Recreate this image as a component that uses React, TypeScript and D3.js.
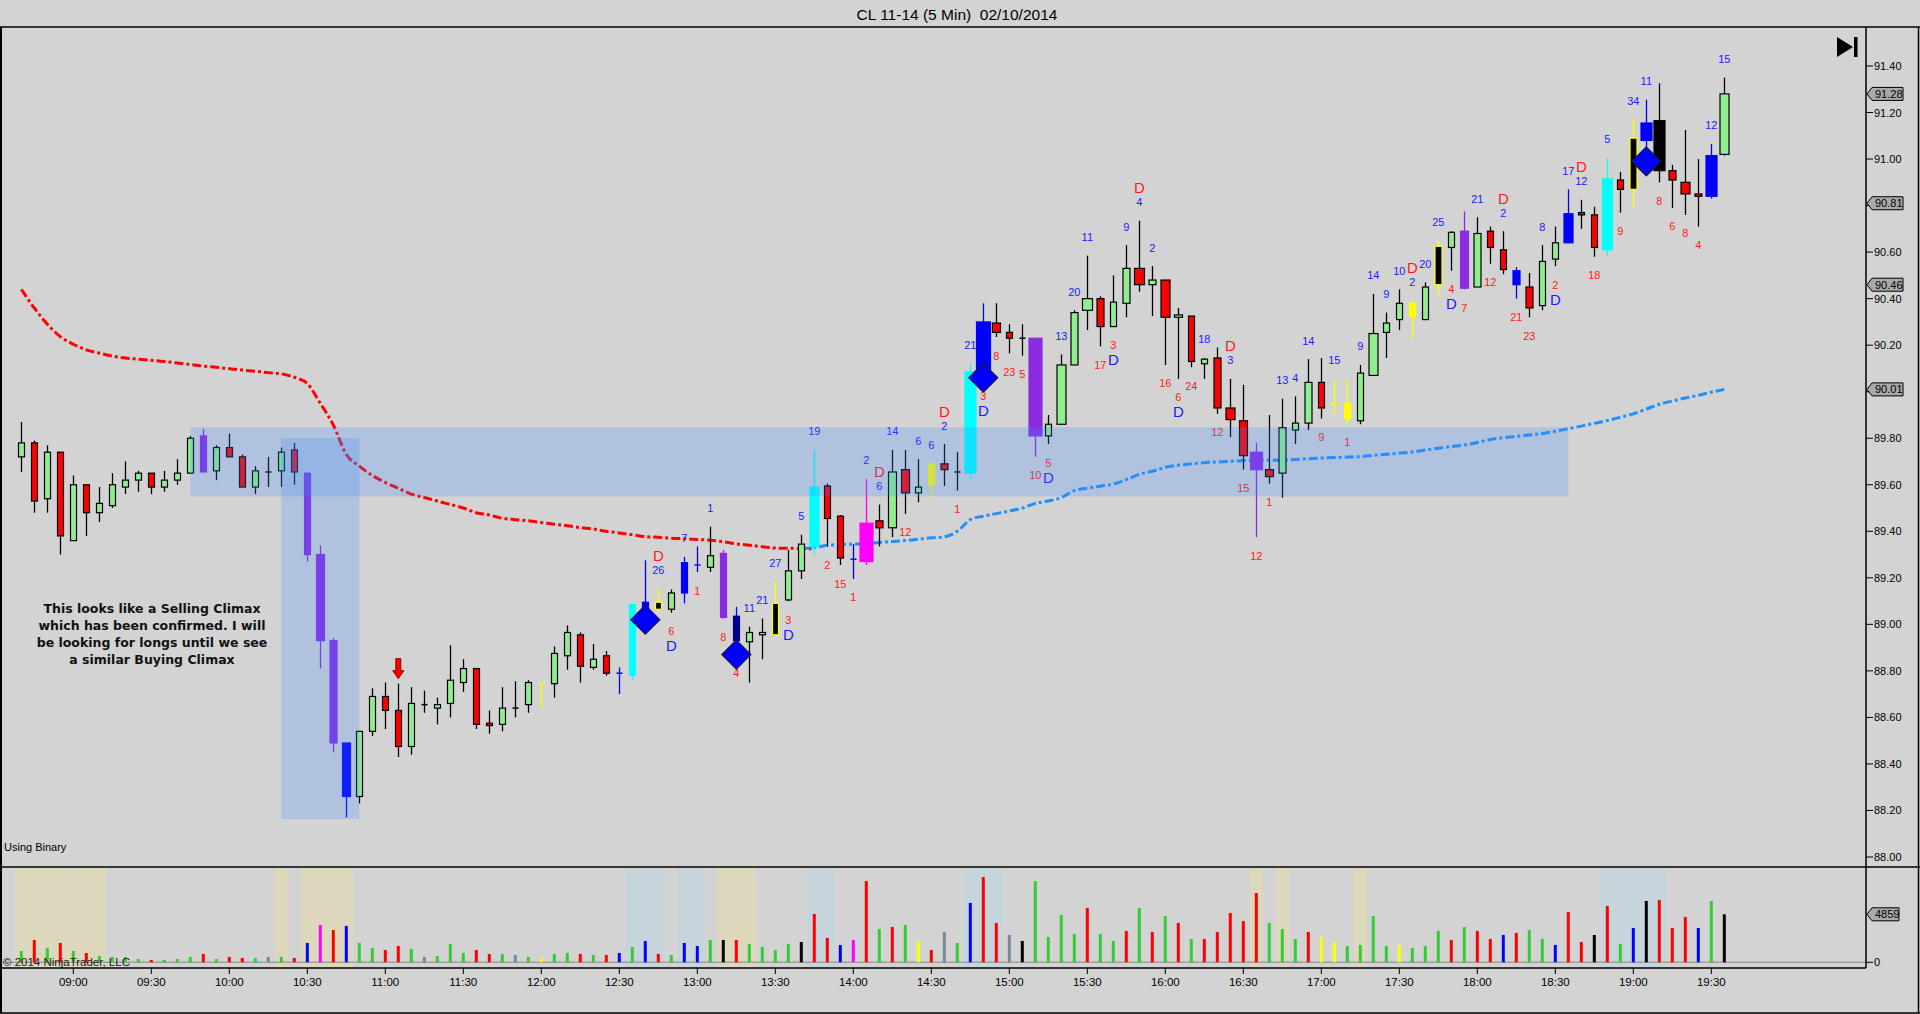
import * as d3 from "d3";

// ---- data (CL 11-14, 5 min bars, 02/10/2014) ----
const firstBarTime = "08:40";

// kind, open, high, low, close
const bars: [string, number, number, number, number][] = [
  ["g", 89.72, 89.87, 89.655, 89.78], ["r", 89.78, 89.79, 89.48, 89.53], ["g", 89.54, 89.77, 89.48, 89.74],
  ["r", 89.74, 89.74, 89.3, 89.38], ["g", 89.36, 89.64, 89.36, 89.6], ["r", 89.6, 89.6, 89.38, 89.48],
  ["g", 89.48, 89.59, 89.44, 89.52], ["g", 89.51, 89.65, 89.5, 89.6], ["g", 89.59, 89.7, 89.56, 89.62],
  ["g", 89.62, 89.66, 89.57, 89.65], ["r", 89.65, 89.65, 89.56, 89.59], ["g", 89.59, 89.66, 89.57, 89.62],
  ["g", 89.62, 89.71, 89.6, 89.65], ["g", 89.65, 89.81, 89.65, 89.8], ["p", 89.81, 89.84, 89.655, 89.655],
  ["g", 89.66, 89.77, 89.62, 89.76], ["r", 89.76, 89.82, 89.72, 89.72], ["r", 89.72, 89.73, 89.59, 89.59],
  ["g", 89.59, 89.68, 89.56, 89.66], ["x", 89.655, 89.72, 89.59, 89.655], ["g", 89.66, 89.76, 89.59, 89.74],
  ["r", 89.75, 89.78, 89.6, 89.655], ["p", 89.65, 89.65, 89.27, 89.3], ["p", 89.3, 89.34, 88.81, 88.93],
  ["p", 88.93, 88.94, 88.45, 88.49], ["b", 88.49, 88.49, 88.17, 88.26], ["g", 88.26, 88.54, 88.23, 88.54],
  ["g", 88.54, 88.725, 88.52, 88.69], ["r", 88.69, 88.75, 88.55, 88.63], ["r", 88.63, 88.745, 88.43, 88.475],
  ["g", 88.475, 88.73, 88.44, 88.66], ["x", 88.655, 88.715, 88.62, 88.655], ["g", 88.64, 88.685, 88.57, 88.655],
  ["g", 88.66, 88.91, 88.6, 88.76], ["g", 88.75, 88.85, 88.71, 88.81], ["r", 88.81, 88.81, 88.55, 88.57],
  ["r", 88.575, 88.63, 88.53, 88.565], ["g", 88.57, 88.73, 88.54, 88.64], ["x", 88.64, 88.755, 88.6, 88.64],
  ["g", 88.655, 88.76, 88.62, 88.75], ["y", 88.745, 88.75, 88.64, 88.745], ["g", 88.745, 88.905, 88.685, 88.875],
  ["g", 88.865, 88.995, 88.805, 88.965], ["r", 88.955, 88.965, 88.75, 88.82], ["g", 88.815, 88.915, 88.805, 88.85],
  ["r", 88.865, 88.885, 88.78, 88.79], ["b", 88.79, 88.815, 88.7, 88.79], ["c", 88.78, 89.09, 88.76, 89.085],
  ["b", 89.06, 89.275, 89.02, 89.095], ["ky", 89.065, 89.155, 89.055, 89.095], ["g", 89.065, 89.15, 89.05, 89.135],
  ["b", 89.135, 89.29, 89.09, 89.265], ["b", 89.255, 89.335, 89.225, 89.255], ["g", 89.245, 89.42, 89.225, 89.295],
  ["p", 89.305, 89.32, 89.025, 89.03], ["n", 89.035, 89.075, 88.87, 88.93], ["g", 88.925, 88.99, 88.75, 88.965],
  ["g", 88.955, 89.025, 88.85, 88.965], ["ky", 88.955, 89.185, 88.95, 89.09], ["g", 89.105, 89.32, 89.1, 89.23],
  ["g", 89.23, 89.385, 89.195, 89.345], ["c", 89.335, 89.75, 89.3, 89.59], ["r", 89.595, 89.605, 89.335, 89.455],
  ["r", 89.465, 89.47, 89.255, 89.285], ["b", 89.28, 89.345, 89.195, 89.28], ["m", 89.27, 89.625, 89.255, 89.435],
  ["r", 89.445, 89.515, 89.335, 89.415], ["g", 89.415, 89.75, 89.375, 89.655], ["r", 89.665, 89.75, 89.475, 89.565],
  ["g", 89.565, 89.71, 89.525, 89.59], ["y", 89.6, 89.69, 89.545, 89.69], ["r", 89.69, 89.775, 89.595, 89.665],
  ["x", 89.655, 89.74, 89.575, 89.655], ["c", 89.65, 90.12, 89.625, 90.085], ["b", 90.09, 90.38, 90.06, 90.3],
  ["r", 90.295, 90.38, 90.235, 90.255], ["r", 90.255, 90.29, 90.165, 90.23], ["x", 90.23, 90.29, 90.155, 90.23],
  ["p", 90.23, 90.23, 89.72, 89.81], ["g", 89.81, 89.9, 89.775, 89.86], ["g", 89.86, 90.16, 89.86, 90.115],
  ["g", 90.115, 90.35, 90.115, 90.34], ["g", 90.35, 90.585, 90.265, 90.4], ["r", 90.4, 90.41, 90.195, 90.28],
  ["g", 90.28, 90.5, 90.28, 90.385], ["g", 90.38, 90.63, 90.32, 90.53], ["r", 90.53, 90.735, 90.43, 90.46],
  ["g", 90.46, 90.54, 90.325, 90.48], ["r", 90.48, 90.48, 90.115, 90.32], ["g", 90.32, 90.36, 90.055, 90.33],
  ["r", 90.325, 90.325, 90.105, 90.13], ["g", 90.12, 90.145, 90.055, 90.14], ["r", 90.145, 90.19, 89.905, 89.93],
  ["r", 89.93, 90.055, 89.805, 89.88], ["r", 89.875, 90.03, 89.665, 89.725], ["p", 89.74, 89.78, 89.375, 89.665],
  ["r", 89.665, 89.9, 89.605, 89.635], ["g", 89.65, 89.97, 89.545, 89.845], ["g", 89.835, 89.98, 89.775, 89.865],
  ["g", 89.865, 90.14, 89.835, 90.04], ["r", 90.04, 90.145, 89.885, 89.93], ["y", 89.94, 90.055, 89.905, 89.945],
  ["y", 89.885, 90.055, 89.865, 89.95], ["g", 89.875, 90.115, 89.86, 90.08], ["g", 90.07, 90.42, 90.07, 90.25],
  ["g", 90.255, 90.34, 90.145, 90.295], ["g", 90.31, 90.44, 90.265, 90.38], ["y", 90.32, 90.39, 90.225, 90.38],
  ["g", 90.31, 90.47, 90.31, 90.45], ["ky", 90.46, 90.65, 90.415, 90.625], ["g", 90.62, 90.69, 90.52, 90.685],
  ["p", 90.69, 90.775, 90.44, 90.445], ["g", 90.45, 90.75, 90.45, 90.68], ["r", 90.69, 90.71, 90.55, 90.62],
  ["r", 90.61, 90.69, 90.505, 90.525], ["b", 90.52, 90.535, 90.4, 90.46], ["r", 90.45, 90.51, 90.32, 90.36],
  ["g", 90.37, 90.63, 90.35, 90.56], ["g", 90.57, 90.71, 90.54, 90.64], ["b", 90.64, 90.87, 90.64, 90.765],
  ["r", 90.77, 90.825, 90.7, 90.76], ["r", 90.76, 90.795, 90.58, 90.62], ["c", 90.61, 91.005, 90.585, 90.915],
  ["r", 90.91, 90.945, 90.77, 90.87], ["ky", 90.87, 91.17, 90.79, 91.09], ["b", 91.08, 91.255, 90.99, 91.155],
  ["k", 91.165, 91.325, 90.9, 90.95], ["r", 90.95, 90.975, 90.79, 90.91], ["r", 90.9, 91.125, 90.76, 90.85],
  ["r", 90.85, 91.0, 90.71, 90.84], ["b", 90.84, 91.065, 90.83, 91.015], ["g", 91.02, 91.35, 91.015, 91.28],
];

const volumes = [
  1147, 2261, 1451, 1957, 1147, 945, 641, 540, 540, 337, 236, 236, 337, 540, 843, 337, 540, 439, 439, 540,
  540, 439, 1957, 3779, 3273, 3678, 1957, 1451, 1248, 1653, 1350, 540, 641, 1856, 945, 1248, 843, 843, 742, 540,
  439, 843, 945, 843, 742, 742, 945, 1552, 2159, 843, 742, 1957, 1653, 2261, 2261, 2261, 1856, 1552, 1248, 1856,
  2058, 4892, 2463, 1754, 2261, 8233, 3374, 3576, 3779, 2159, 1248, 3070, 1957, 6006, 8637, 3981, 2767, 2159, 8233, 2564,
  4791, 2868, 5500, 2868, 2159, 3172, 5500, 3070, 4690, 3981, 2362, 2362, 3070, 4994, 4184, 7018, 3981, 3374, 2362, 3070,
  2564, 2058, 1653, 1754, 4690, 1653, 1754, 1451, 1653, 3172, 2261, 3576, 3172, 2362, 2767, 2969, 3273, 2362, 1754, 5095,
  2058, 2767, 5702, 1856, 3475, 6208, 6309, 3475, 4589, 3475, 6208, 4859,
];

const volumeKinds = (
  "g r g r g r g g g g r g g g r g r r g s g r b m r b g g r r g s g g g r r g s " +
  "g y g g r g r b g b r g b b g k r g g g g k r r b m r g r g y r s g b r r s k " +
  "g g g g r g g r g r g r g r r r r r g g g r y y g g g g y g g g r g " +
  "r r b r g g b r r k r g b k r r r b g"
).split(" ");

const khakiBars = [0, 1, 2, 3, 4, 5, 6, 20, 22, 23, 24, 25, 54, 55, 56, 95, 97, 103];
const slateBars = [47, 48, 49, 51, 52, 61, 62, 73, 74, 75, 122, 123, 124, 125, 126];

// trailing average lines (red while falling, blue after the turn)
const redLineStart = 0;
const redLine = [
  90.44, 90.36, 90.29, 90.237, 90.204, 90.18, 90.166, 90.153, 90.145, 90.14, 90.135, 90.13, 90.123, 90.117,
  90.11, 90.105, 90.099, 90.093, 90.088, 90.082, 90.077, 90.062, 90.035, 89.95, 89.857, 89.73, 89.68, 89.64,
  89.61, 89.585, 89.56, 89.545, 89.53, 89.515, 89.5, 89.48, 89.47, 89.456, 89.45, 89.445, 89.438, 89.43,
  89.424, 89.416, 89.41, 89.4, 89.393, 89.385, 89.377, 89.374, 89.37, 89.368, 89.365, 89.362, 89.355, 89.346,
  89.34, 89.334, 89.328, 89.327, 89.326, 89.325,
];
const blueLineStart = 60;
const blueLine = [
  89.325, 89.33, 89.34, 89.343, 89.345, 89.347, 89.352, 89.356, 89.36, 89.366, 89.372, 89.376, 89.4, 89.45,
  89.465, 89.476, 89.487, 89.5, 89.52, 89.53, 89.545, 89.575, 89.585, 89.594, 89.603, 89.622, 89.645, 89.658,
  89.675, 89.684, 89.69, 89.695, 89.698, 89.701, 89.704, 89.705, 89.705, 89.706, 89.709, 89.712, 89.715, 89.717,
  89.719, 89.721, 89.726, 89.731, 89.736, 89.741, 89.749, 89.757, 89.764, 89.771, 89.782, 89.795, 89.802, 89.808,
  89.814, 89.82, 89.83, 89.841, 89.852, 89.864, 89.876, 89.89, 89.905, 89.925, 89.946, 89.96, 89.973, 89.985,
  89.998, 90.01,
];

// bar index, text, colour, side of the bar, stacking level
const barLabels: [number, string, string, string, number][] = [
  [49, "26", "b", "hi", 0], [49, "D", "r", "hi", 1], [50, "6", "r", "lo", 0], [50, "D", "b", "lo", 1],
  [51, "7", "b", "hi", 0], [52, "1", "r", "lo", 0], [53, "1", "b", "hi", 0], [54, "8", "r", "lo", 0],
  [55, "4", "r", "lo", 0], [56, "11", "b", "hi", 0], [57, "21", "b", "hi", 0], [58, "27", "b", "hi", 0],
  [59, "3", "r", "lo", 0], [59, "D", "b", "lo", 1], [60, "5", "b", "hi", 0], [61, "19", "b", "hi", 0],
  [62, "2", "r", "lo", 0], [63, "15", "r", "lo", 0], [64, "1", "r", "lo", 0], [65, "2", "b", "hi", 0],
  [66, "6", "b", "hi", 0], [66, "D", "r", "hi", 1], [67, "14", "b", "hi", 0], [68, "12", "r", "lo", 0],
  [69, "6", "b", "hi", 0], [70, "6", "b", "hi", 0], [71, "2", "b", "hi", 0], [71, "D", "r", "hi", 1],
  [72, "1", "r", "lo", 0], [73, "21", "b", "hi", 0], [74, "3", "r", "lo", 0], [74, "D", "b", "lo", 1],
  [75, "8", "r", "lo", 0], [76, "23", "r", "lo", 0], [77, "5", "r", "lo", 0], [78, "10", "r", "lo", 0],
  [79, "5", "r", "lo", 0], [79, "D", "b", "lo", 1], [80, "13", "b", "hi", 0], [81, "20", "b", "hi", 0],
  [82, "11", "b", "hi", 0], [83, "17", "r", "lo", 0], [84, "3", "r", "lo", 0], [84, "D", "b", "lo", 1],
  [85, "9", "b", "hi", 0], [86, "4", "b", "hi", 0], [86, "D", "r", "hi", 1], [87, "2", "b", "hi", 0],
  [88, "16", "r", "lo", 0], [89, "6", "r", "lo", 0], [89, "D", "b", "lo", 1], [90, "24", "r", "lo", 0],
  [91, "18", "b", "hi", 0], [92, "12", "r", "lo", 0], [93, "3", "b", "hi", 0], [93, "D", "r", "hi", 1],
  [94, "15", "r", "lo", 0], [95, "12", "r", "lo", 0], [96, "1", "r", "lo", 0], [97, "13", "b", "hi", 0],
  [98, "4", "b", "hi", 0], [99, "14", "b", "hi", 0], [100, "9", "r", "lo", 0], [101, "15", "b", "hi", 0],
  [102, "1", "r", "lo", 0], [103, "9", "b", "hi", 0], [104, "14", "b", "hi", 0], [105, "9", "b", "hi", 0],
  [106, "10", "b", "hi", 0], [107, "2", "b", "hi", 0], [107, "D", "r", "hi", 1], [108, "20", "b", "hi", 0],
  [109, "25", "b", "hi", 0], [110, "4", "r", "lo", 0], [110, "D", "b", "lo", 1], [111, "7", "r", "lo", 0],
  [112, "21", "b", "hi", 0], [113, "12", "r", "lo", 0], [114, "2", "b", "hi", 0], [114, "D", "r", "hi", 1],
  [115, "21", "r", "lo", 0], [116, "23", "r", "lo", 0], [117, "8", "b", "hi", 0], [118, "2", "r", "lo", 0],
  [118, "D", "b", "lo", 1], [119, "17", "b", "hi", 0], [120, "12", "b", "hi", 0], [120, "D", "r", "hi", 1],
  [121, "18", "r", "lo", 0], [122, "5", "b", "hi", 0], [123, "9", "r", "lo", 0], [124, "34", "b", "hi", 0],
  [125, "11", "b", "hi", 0], [126, "8", "r", "lo", 0], [127, "6", "r", "lo", 0], [128, "8", "r", "lo", 0],
  [129, "4", "r", "lo", 0], [130, "12", "b", "hi", 0], [131, "15", "b", "hi", 0],
];

const diamondBars = [48, 55, 74, 125];
const arrowBars = [29];

// drawn rectangles: first bar, last bar, top price, bottom price
const zones: [number, number, number, number][] = [
  [13, 119, 89.847, 89.55],
  [20, 26, 89.8, 88.163],
];

const priceTicks = [88.0, 88.2, 88.4, 88.6, 88.8, 89.0, 89.2, 89.4, 89.6, 89.8, 90.0, 90.2, 90.4, 90.6, 90.8, 91.0, 91.2, 91.4];
const priceMarkers = [91.28, 90.81, 90.46, 90.01];
const timeTicks = [
  "09:00", "09:30", "10:00", "10:30", "11:00", "11:30", "12:00", "12:30", "13:00", "13:30", "14:00",
  "14:30", "15:00", "15:30", "16:00", "16:30", "17:00", "17:30", "18:00", "18:30", "19:00", "19:30",
];
const noteLines = [
  "This looks like a Selling Climax",
  "which has been confirmed. I will",
  "be looking for longs until we see",
  "a similar Buying Climax",
];
const title = "CL 11-14 (5 Min)  02/10/2014";

// ---- styles ----
const W = 1920;
const H = 1014;
const FONT = "'Liberation Sans', Arial, sans-serif";
const BG = "#d3d3d3";
const AXIS_X = 1866;
const PANEL_TOP = 27;
const PRICE_BOTTOM = 867;
const VOL_BOTTOM = 968;

const candleStyle: Record<string, { fill: string; stroke: string; wick: string }> = {
  g: { fill: "#90ee90", stroke: "#000", wick: "#000" },
  r: { fill: "#ff0000", stroke: "#000", wick: "#000" },
  x: { fill: "#000", stroke: "#000", wick: "#000" },
  p: { fill: "#8a2be2", stroke: "#8a2be2", wick: "#8a2be2" },
  b: { fill: "#0000ff", stroke: "#0000ff", wick: "#0000ff" },
  c: { fill: "#00ffff", stroke: "#00ffff", wick: "#00ffff" },
  m: { fill: "#ff00ff", stroke: "#ff00ff", wick: "#ff00ff" },
  y: { fill: "#ffff00", stroke: "#ffff00", wick: "#ffff00" },
  k: { fill: "#000", stroke: "#000", wick: "#000" },
  ky: { fill: "#000", stroke: "#ffff00", wick: "#ffff00" },
  n: { fill: "#00008b", stroke: "#00008b", wick: "#0000ff" },
};
const volColor: Record<string, string> = {
  g: "#32cd32", r: "#ff0000", b: "#0000ff", m: "#ff00ff", k: "#000000", y: "#ffff00", s: "#778899",
};
const labelColor: Record<string, string> = { b: "#1a1aff", r: "#ff1a1a" };

function minutes(t: string) {
  const [h, m] = t.split(":").map(Number);
  return h * 60 + m;
}

export default function App() {
  const n = bars.length;
  const x = d3.scaleLinear().domain([0, n - 1]).range([21.3, 21.3 + 13 * (n - 1)]);
  const y = d3.scaleLinear().domain([88, 91.4]).range([857, 66]);
  const vMax = 9617;
  const vy = d3.scaleLinear().domain([0, vMax]).range([962.3, 867.3]);
  const bodyW = d3.scaleLinear().domain([2400, 8637]).range([6, 14]).clamp(true);

  const redPath = d3
    .line<number>()
    .x((_, i) => x(i + redLineStart))
    .y((d) => y(d))
    .curve(d3.curveMonotoneX)(redLine);
  const bluePath = d3
    .line<number>()
    .x((_, i) => x(i + blueLineStart))
    .y((d) => y(d))
    .curve(d3.curveMonotoneX)(blueLine);

  const t0 = minutes(firstBarTime);
  const labelOffset = [18.5, 33];

  const tag = (yy: number, text: string, w: number) => (
    <g key={text}>
      <path
        d={`M${AXIS_X + 1},${yy} L${AXIS_X + 6},${yy - 6.5} L${AXIS_X + 1 + w},${yy - 6.5} L${AXIS_X + 1 + w},${yy + 6.5} L${AXIS_X + 6},${yy + 6.5} Z`}
        fill="#a9a9a9"
        stroke="#000"
        strokeWidth={1}
      />
      <text x={AXIS_X + 9} y={yy} dominantBaseline="central" fontSize={11} fill="#000">
        {text}
      </text>
    </g>
  );

  return (
    <div style={{ position: "absolute", left: 0, top: 0 }}>
      <svg width={W} height={H} viewBox={`0 0 ${W} ${H}`} style={{ display: "block", fontFamily: FONT }}>
        <rect x={0} y={0} width={W} height={H} fill={BG} />

        <text
          x={957}
          y={14}
          textAnchor="middle"
          dominantBaseline="central"
          fontSize={15.5}
          fill="#000"
          style={{ whiteSpace: "pre" }}
        >
          {title}
        </text>

        {/* volume panel background shading */}
        {khakiBars.map((i) => (
          <rect key={"k" + i} x={x(i) - 6.5} y={868} width={13} height={VOL_BOTTOM - 868} fill="#ddd8bc" />
        ))}
        {slateBars.map((i) => (
          <rect key={"s" + i} x={x(i) - 6.5} y={868} width={13} height={VOL_BOTTOM - 868} fill="#c6d4dc" />
        ))}

        {/* zero line of the volume panel */}
        <line x1={0} x2={AXIS_X} y1={vy(0)} y2={vy(0)} stroke="#a0a0a0" strokeWidth={1.5} />

        {/* volume bars */}
        {volumes.map((v, i) => (
          <rect key={"v" + i} x={x(i) - 1.5} y={vy(v)} width={3} height={vy(0) - vy(v)} fill={volColor[volumeKinds[i]]} />
        ))}

        {/* average lines */}
        <path d={redPath ?? ""} fill="none" stroke="#ff0000" strokeWidth={3} strokeDasharray="9,3,3,3" />
        <path d={bluePath ?? ""} fill="none" stroke="#1e90ff" strokeWidth={3} strokeDasharray="9,3,3,3" />

        {/* candles */}
        {bars.map(([k, o, h, l, c], i) => {
          const s = candleStyle[k];
          const cx = Math.round(x(i)) + 0.5;
          const w = Math.round(bodyW(volumes[i]));
          const top = y(Math.max(o, c));
          const bot = y(Math.min(o, c));
          const flat = bot - top < 1.5;
          return (
            <g key={"c" + i}>
              <line x1={cx} x2={cx} y1={y(h)} y2={y(l)} stroke={s.wick} strokeWidth={1.3} />
              {flat ? (
                <line x1={cx - w / 2} x2={cx + w / 2} y1={top} y2={top} stroke={s.stroke} strokeWidth={1.5} />
              ) : (
                <rect x={cx - w / 2} y={top} width={w} height={bot - top} fill={s.fill} stroke={s.stroke} strokeWidth={1.2} />
              )}
            </g>
          );
        })}

        {/* signal diamonds at the bar low */}
        {diamondBars.map((i) => {
          const cx = x(i);
          const cy = y(bars[i][3]);
          const r = 14.5;
          return (
            <path
              key={"d" + i}
              d={`M${cx},${cy - r} L${cx + r},${cy} L${cx},${cy + r} L${cx - r},${cy} Z`}
              fill="#0000ff"
              stroke="#1a1a40"
              strokeWidth={1.2}
            />
          );
        })}

        {/* down arrow above the bar high */}
        {arrowBars.map((i) => {
          const cx = x(i);
          const tip = y(bars[i][2]) - 5;
          const top = tip - 20;
          return (
            <path
              key={"a" + i}
              d={`M${cx - 2.5},${top} L${cx + 2.5},${top} L${cx + 2.5},${tip - 8} L${cx + 5.5},${tip - 8} L${cx},${tip} L${cx - 5.5},${tip - 8} L${cx - 2.5},${tip - 8} Z`}
              fill="#ff0000"
              stroke="#8b0000"
              strokeWidth={1}
            />
          );
        })}

        {/* bar count labels */}
        {barLabels.map(([i, t, c, side, lvl], j) => {
          const base = side === "hi" ? y(bars[i][2]) - labelOffset[lvl] : y(bars[i][3]) + labelOffset[lvl];
          return (
            <text
              key={"l" + j}
              x={x(i)}
              y={base}
              textAnchor="middle"
              dominantBaseline="central"
              fontSize={t === "D" ? 15 : 11}
              fill={labelColor[c]}
            >
              {t}
            </text>
          );
        })}

        {/* drawn zones */}
        {zones.map(([a, b, top, bot], j) => (
          <rect
            key={"z" + j}
            x={x(a)}
            y={y(top)}
            width={x(b) - x(a)}
            height={y(bot) - y(top)}
            fill="#3c8cff"
            fillOpacity={0.23}
          />
        ))}

        {/* note */}
        {noteLines.map((t, j) => (
          <text
            key={"n" + j}
            x={152}
            y={608 + j * 17}
            textAnchor="middle"
            dominantBaseline="central"
            fontSize={12.5}
            fontWeight="bold"
            fontFamily="'DejaVu Sans', Verdana, sans-serif"
            fill="#111"
          >
            {t}
          </text>
        ))}

        <text x={4} y={847} dominantBaseline="central" fontSize={11} fill="#000">
          Using Binary
        </text>
        <text x={3} y={962} dominantBaseline="central" fontSize={11.5} fill="#222">
          © 2014 NinjaTrader, LLC
        </text>

        {/* play-to-end icon */}
        <path d="M1837,37 L1853,47 L1837,57 Z" fill="#000" />
        <rect x={1854} y={37} width={3.5} height={20} fill="#000" />

        {/* frame and panel borders */}
        <line x1={0} x2={W} y1={PANEL_TOP} y2={PANEL_TOP} stroke="#000" strokeWidth={1.5} />
        <line x1={1} x2={1} y1={PANEL_TOP} y2={1013} stroke="#000" strokeWidth={2} />
        <line x1={1918.5} x2={1918.5} y1={PANEL_TOP} y2={1013} stroke="#000" strokeWidth={1.5} />
        <line x1={0} x2={W} y1={1013} y2={1013} stroke="#000" strokeWidth={1.5} />
        <line x1={0} x2={W} y1={PRICE_BOTTOM} y2={PRICE_BOTTOM} stroke="#000" strokeWidth={1.5} />
        <line x1={0} x2={AXIS_X} y1={VOL_BOTTOM} y2={VOL_BOTTOM} stroke="#000" strokeWidth={1.5} />
        <line x1={AXIS_X} x2={AXIS_X} y1={PANEL_TOP} y2={VOL_BOTTOM} stroke="#000" strokeWidth={1.5} />

        {/* price axis */}
        {priceTicks.map((p) => (
          <g key={"p" + p}>
            <line x1={AXIS_X} x2={AXIS_X + 7} y1={y(p)} y2={y(p)} stroke="#000" />
            <text x={AXIS_X + 8} y={y(p)} dominantBaseline="central" fontSize={11} fill="#000">
              {p.toFixed(2)}
            </text>
          </g>
        ))}
        {priceMarkers.map((p) => tag(y(p), p.toFixed(2), 36))}

        {/* volume axis */}
        <line x1={AXIS_X} x2={AXIS_X + 7} y1={vy(0)} y2={vy(0)} stroke="#000" />
        <text x={AXIS_X + 8} y={vy(0)} dominantBaseline="central" fontSize={11} fill="#000">
          0
        </text>
        {tag(vy(volumes[n - 1]), String(volumes[n - 1]), 32)}

        {/* time axis */}
        {timeTicks.map((t) => {
          const i = (minutes(t) - t0) / 5;
          return (
            <g key={t}>
              <line x1={x(i)} x2={x(i)} y1={VOL_BOTTOM} y2={VOL_BOTTOM + 6} stroke="#000" />
              <text x={x(i)} y={982} textAnchor="middle" dominantBaseline="central" fontSize={11.5} fill="#000">
                {t}
              </text>
            </g>
          );
        })}
      </svg>
    </div>
  );
}
